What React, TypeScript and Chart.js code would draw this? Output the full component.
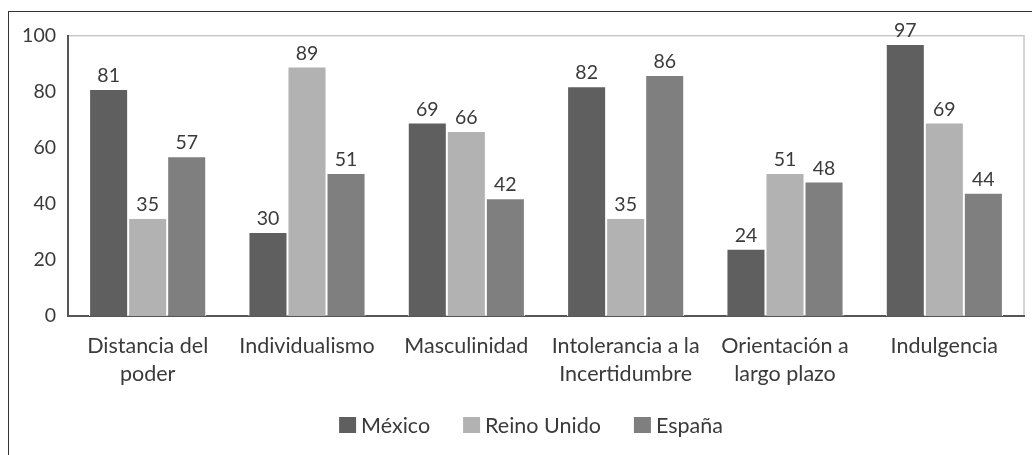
import React, { useEffect, useRef } from "react";
import { Chart, registerables } from "chart.js";

Chart.register(...registerables);

const categories: string[][] = [
  ["Distancia del", "poder"],
  ["Individualismo"],
  ["Masculinidad"],
  ["Intolerancia a la", "Incertidumbre"],
  ["Orientación a", "largo plazo"],
  ["Indulgencia"],
];
const mexico = [81, 30, 69, 82, 24, 97];
const reinoUnido = [35, 89, 66, 35, 51, 69];
const espana = [57, 51, 42, 86, 48, 44];
const seriesNames = ["México", "Reino Unido", "España"];
const seriesColors = ["#5f5f5f", "#b2b2b2", "#7f7f7f"];
const yTicks = { min: 0, max: 100, step: 20 };

const FONT = "Lato";
const TEXT = "#3a3a3a";
const NUM_SIZE = 19.5;
const LABEL_SIZE = 21.5;

const plotFrame = {
  id: "plotFrame",
  beforeDraw(chart: any) {
    const { ctx, chartArea } = chart;
    if (!chartArea) return;
    ctx.save();
    ctx.strokeStyle = "#c8c8c8";
    ctx.lineWidth = 1.5;
    ctx.strokeRect(chartArea.left, chartArea.top, chartArea.right - chartArea.left, chartArea.bottom - chartArea.top);
    ctx.restore();
  },
};

const valueLabels = {
  id: "valueLabels",
  afterDatasetsDraw(chart: any) {
    const { ctx } = chart;
    ctx.save();
    ctx.font = `${NUM_SIZE}px ${FONT}`;
    ctx.fillStyle = TEXT;
    ctx.textAlign = "center";
    ctx.textBaseline = "alphabetic";
    chart.data.datasets.forEach((ds: any, i: number) => {
      const meta = chart.getDatasetMeta(i);
      meta.data.forEach((bar: any, j: number) => {
        ctx.fillText(String(ds.data[j]), bar.x, bar.y - 7);
      });
    });
    ctx.restore();
  },
};

const customLegend = {
  id: "customLegend",
  afterDraw(chart: any) {
    const { ctx } = chart;
    const datasets = chart.data.datasets;
    const box = 17;
    const boxH = 16;
    const gapText = 5;
    const gapItem = 33;
    const centerX = 522;
    const centerY = 413;
    ctx.save();
    ctx.font = `${LABEL_SIZE}px ${FONT}`;
    const widths = datasets.map((d: any) => ctx.measureText(d.label).width);
    const total =
      widths.reduce((a: number, w: number) => a + box + gapText + w, 0) + gapItem * (datasets.length - 1);
    let x = centerX - total / 2;
    ctx.textBaseline = "middle";
    ctx.textAlign = "left";
    datasets.forEach((d: any, i: number) => {
      ctx.fillStyle = d.backgroundColor;
      ctx.fillRect(x, centerY - boxH / 2, box, boxH);
      ctx.fillStyle = TEXT;
      ctx.fillText(d.label, x + box + gapText, centerY + 1);
      x += box + gapText + widths[i] + gapItem;
    });
    ctx.restore();
  },
};

export default function App() {
  const ref = useRef<HTMLCanvasElement>(null);
  useEffect(() => {
    if (!ref.current) return;
    const data = [mexico, reinoUnido, espana];
    const chart = new Chart(ref.current, {
      type: "bar",
      data: {
        labels: categories,
        datasets: seriesNames.map((name, i) => ({
          label: name,
          data: data[i],
          backgroundColor: seriesColors[i],
          borderColor: "#ffffff",
          borderWidth: 1,
          categoryPercentage: 0.735,
          barPercentage: 1,
        })),
      },
      options: {
        animation: false,
        responsive: false,
        layout: { padding: { left: 13, right: 8, top: 12, bottom: 51 } },
        scales: {
          x: {
            grid: { display: false, drawTicks: false },
            border: { display: true, color: "#555555", width: 2 },
            ticks: {
              color: TEXT,
              font: { family: FONT, size: LABEL_SIZE, lineHeight: 1.3 },
              padding: 16,
              maxRotation: 0,
              autoSkip: false,
            },
          },
          y: {
            min: yTicks.min,
            max: yTicks.max,
            grid: { display: false, drawTicks: false },
            border: { display: true, color: "#555555", width: 2 },
            ticks: {
              stepSize: yTicks.step,
              color: TEXT,
              font: { family: FONT, size: NUM_SIZE },
              padding: 12,
            },
            afterFit(scale: any) {
              scale.width = 46;
            },
          },
        },
        plugins: {
          legend: { display: false },
          tooltip: { enabled: false },
        },
      },
      plugins: [plotFrame, valueLabels, customLegend],
    });
    return () => chart.destroy();
  }, []);
  return (
    <div
      style={{
        position: "absolute",
        top: 11,
        left: 8,
        borderLeft: "1px solid #333",
        borderTop: "1px solid #333",
        width: 1023,
        height: 443,
        overflow: "hidden",
      }}
    >
      <canvas ref={ref} width={1023} height={443} style={{ display: "block" }} />
    </div>
  );
}
